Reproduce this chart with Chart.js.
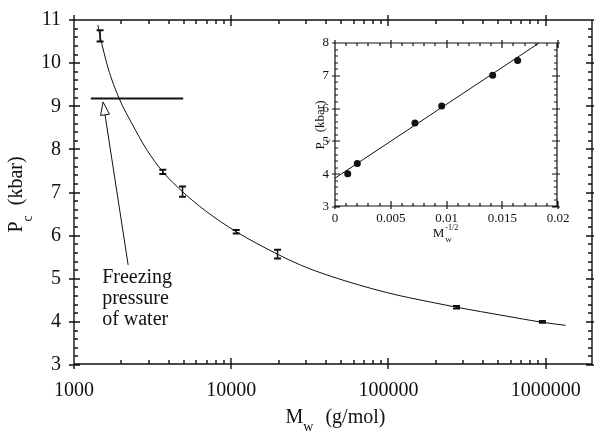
<!DOCTYPE html>
<html>
<head>
<meta charset="utf-8">
<script src="https://cdn.jsdelivr.net/npm/chart.js@4.4.1/dist/chart.umd.min.js"></script>
<style>
  html, body { margin: 0; padding: 0; background: #fff; }
  #wrap { position: relative; width: 594px; height: 431px; overflow: hidden; }
  #main { position: absolute; left: 0; top: 0; }
  #inset { position: absolute; left: 290px; top: 30px; }
</style>
</head>
<body>
<div id="wrap">
  <canvas id="main" width="594" height="431"></canvas>
  <canvas id="inset" width="290" height="220"></canvas>
</div>
<script>
/* globals Chart:false */

// Main panel: critical pressure against molecular weight
const molWeight = [1465, 3670, 4900, 10760, 19700, 271000, 953000];
const critPressure = [10.63, 7.48, 7.02, 6.09, 5.57, 4.34, 4.0];
const critPressureErr = [0.13, 0.05, 0.12, 0.04, 0.1, 0.03, 0.02];

// fitted curve
const fitMolWeight = [1418, 1465, 1646, 1943, 2342, 2905, 3672, 4896, 6833, 10760, 19680, 27500, 42800, 100000, 185000, 271000, 550000, 953000, 1340000];
const fitPressure = [10.88, 10.63, 9.89, 9.17, 8.59, 7.99, 7.48, 7.02, 6.58, 6.09, 5.57, 5.32, 5.06, 4.67, 4.46, 4.34, 4.14, 3.99, 3.92];

// freezing pressure of water + its arrow (tail, tip) and label
const freezeMolWeight = [1280, 4950];
const freezePressure = [9.18, 9.18];
const arrowMolWeight = [2210, 1530];
const arrowPressure = [5.32, 9.1];
const freezeLabel = ['Freezing', 'pressure', 'of water'];
const freezeLabelAt = [1510, 4.9];

const xTickLabels = [1000, 10000, 100000, 1000000];
const yTickLabels = [3, 4, 5, 6, 7, 8, 9, 10, 11];

// Inset: Pc against Mw^-1/2
const invSqrtM = [0.00114, 0.0020, 0.00717, 0.00957, 0.01414, 0.01638];
const insetPressure = [4.01, 4.33, 5.56, 6.08, 7.02, 7.47];
const insetFitX = [0, 0.0183];
const insetFitY = [3.88, 8.0];
const insetXTicks = [0, 0.005, 0.01, 0.015, 0.02];
const insetYTicks = [3, 4, 5, 6, 7, 8];

const serif = "'Liberation Serif', 'Times New Roman', serif";
const ink = '#111';
Chart.defaults.font.family = serif;
Chart.defaults.color = ink;
Chart.defaults.animation = false;

const pts = (xs, ys) => xs.map((v, i) => ({ x: v, y: ys[i] }));

// minor tick values
const xMinor = [];
for (let d = 1000; d <= 1000000; d *= 10) {
  for (let k = 2; k <= 9; k++) if (d * k < 2000000) xMinor.push(d * k);
}
const yMinor = [];
for (let i = 15; i <= 55; i++) if (i % 5) yMinor.push(i / 5);
const insetXMinor = [];
for (let i = 1; i <= 20; i++) if (i % 5) insetXMinor.push(i / 1000);
const insetYMinor = [];
for (let i = 15; i <= 40; i++) if (i % 5) insetYMinor.push(i / 5);

// keep the plot area exactly where the axes put it
const noPad = s => { s.paddingTop = 0; s.paddingBottom = 0; s.paddingLeft = 0; s.paddingRight = 0; };

// text with sub/superscripts: [text, size, dy, gap, noAdvance]
function richText(ctx, parts) {
  let w = 0;
  parts.forEach(p => {
    ctx.font = p[1] + 'px ' + serif;
    if (!p[4]) w += (p[3] || 0) + ctx.measureText(p[0]).width;
  });
  let x = -w / 2;
  parts.forEach(p => {
    ctx.font = p[1] + 'px ' + serif;
    const px = x + (p[3] || 0);
    ctx.fillText(p[0], px, p[2]);
    if (!p[4]) x = px + ctx.measureText(p[0]).width;
  });
}

// boxed frame, ticks on all four sides, and the axis titles
function decor(cfg) {
  return {
    id: 'decor',
    afterDatasetsDraw(chart) {
      const { ctx, chartArea: a } = chart;
      const sx = chart.scales.x, sy = chart.scales.y;
      const L = Math.round(a.left), R = Math.round(a.right) - 1;
      const T = Math.round(a.top), B = Math.round(a.bottom) - 1;
      ctx.save();
      ctx.strokeStyle = ink;
      ctx.lineWidth = cfg.width;
      ctx.lineCap = 'butt';
      ctx.beginPath();
      ctx.rect(L, T, R - L, B - T);
      const xMarks = (vals, len) => vals.forEach(v => {
        const p = Math.round(sx.getPixelForValue(v));
        ctx.moveTo(p, B + len[1]); ctx.lineTo(p, B - len[0]);
        ctx.moveTo(p, T - len[1]); ctx.lineTo(p, T + len[0]);
      });
      const yMarks = (vals, len) => vals.forEach(v => {
        const p = Math.round(sy.getPixelForValue(v));
        ctx.moveTo(L - len[1], p); ctx.lineTo(L + len[0], p);
        ctx.moveTo(R + len[1], p); ctx.lineTo(R - len[0], p);
      });
      xMarks(cfg.xMajor, cfg.major);
      xMarks(cfg.xMinor, cfg.minor);
      yMarks(cfg.yMajor, cfg.major);
      yMarks(cfg.yMinor, cfg.minor);
      ctx.stroke();

      ctx.fillStyle = ink;
      ctx.textAlign = 'left';
      ctx.textBaseline = 'alphabetic';
      ctx.save();
      ctx.translate((a.left + a.right) / 2 + cfg.xTitle.shift, cfg.xTitle.base);
      richText(ctx, cfg.xTitle.parts);
      ctx.restore();
      ctx.save();
      ctx.translate(cfg.yTitle.base, (a.top + a.bottom) / 2 + cfg.yTitle.shift);
      ctx.rotate(-Math.PI / 2);
      richText(ctx, cfg.yTitle.parts);
      ctx.restore();
      ctx.restore();
    }
  };
}

// error bars and the freezing-pressure note on the main panel
const mainMarks = {
  id: 'mainMarks',
  afterDatasetsDraw(chart) {
    const { ctx } = chart;
    const sx = chart.scales.x, sy = chart.scales.y;
    ctx.save();
    ctx.strokeStyle = ink;
    chart.getDatasetMeta(2).data.forEach((pt, i) => {
      const v = critPressure[i], e = critPressureErr[i];
      const top = sy.getPixelForValue(v + e), bot = sy.getPixelForValue(v - e);
      ctx.lineWidth = 1.5;
      ctx.beginPath();
      ctx.moveTo(pt.x, top); ctx.lineTo(pt.x, bot);
      ctx.stroke();
      ctx.lineWidth = 2;
      ctx.beginPath();
      ctx.moveTo(pt.x - 3.5, top); ctx.lineTo(pt.x + 3.5, top);
      ctx.moveTo(pt.x - 3.5, bot); ctx.lineTo(pt.x + 3.5, bot);
      ctx.stroke();
    });

    const x0 = sx.getPixelForValue(arrowMolWeight[0]), y0 = sy.getPixelForValue(arrowPressure[0]);
    const x1 = sx.getPixelForValue(arrowMolWeight[1]), y1 = sy.getPixelForValue(arrowPressure[1]);
    const ang = Math.atan2(y1 - y0, x1 - x0);
    const head = 13, half = 4.5;
    const bx = x1 - head * Math.cos(ang), by = y1 - head * Math.sin(ang);
    ctx.lineWidth = 1;
    ctx.beginPath();
    ctx.moveTo(x0, y0); ctx.lineTo(bx, by);
    ctx.stroke();
    ctx.beginPath();
    ctx.moveTo(x1, y1);
    ctx.lineTo(bx + half * Math.sin(ang), by - half * Math.cos(ang));
    ctx.lineTo(bx - half * Math.sin(ang), by + half * Math.cos(ang));
    ctx.closePath();
    ctx.fillStyle = '#fff';
    ctx.fill();
    ctx.stroke();

    ctx.fillStyle = ink;
    ctx.font = '20px ' + serif;
    ctx.textAlign = 'left';
    ctx.textBaseline = 'alphabetic';
    const tx = sx.getPixelForValue(freezeLabelAt[0]), ty = sy.getPixelForValue(freezeLabelAt[1]);
    freezeLabel.forEach((s, i) => ctx.fillText(s, tx, ty + i * 21));
    ctx.restore();
  }
};

const noGrid = { display: false, drawTicks: false };

// Main chart
new Chart(document.getElementById('main'), {
  type: 'line',
  data: {
    datasets: [{
      data: pts(fitMolWeight, fitPressure),
      borderColor: ink,
      borderWidth: 1,
      pointRadius: 0,
      cubicInterpolationMode: 'monotone'
    }, {
      data: pts(freezeMolWeight, freezePressure),
      borderColor: ink,
      borderWidth: 2,
      pointRadius: 0
    }, {
      data: pts(molWeight, critPressure),
      showLine: false,
      pointRadius: 0
    }]
  },
  options: {
    responsive: false,
    events: [],
    layout: { padding: { top: 20, right: 1, left: 0, bottom: 0 } },
    plugins: { legend: { display: false }, tooltip: { enabled: false } },
    scales: {
      x: {
        type: 'logarithmic',
        min: 1000,
        max: 2000000,
        afterBuildTicks: s => { s.ticks = xTickLabels.map(v => ({ value: v })); },
        afterFit: s => { s.height = 66; noPad(s); },
        grid: noGrid,
        border: { display: false },
        ticks: { font: { size: 20 }, padding: 14, maxRotation: 0, autoSkip: false, callback: v => String(v) }
      },
      y: {
        min: 3,
        max: 11,
        afterBuildTicks: s => { s.ticks = yTickLabels.map(v => ({ value: v })); },
        afterFit: s => { s.width = 74; noPad(s); },
        grid: noGrid,
        border: { display: false },
        ticks: { font: { size: 20 }, padding: 13 }
      }
    }
  },
  plugins: [mainMarks, decor({
    width: 1.4,
    xMajor: xTickLabels, xMinor: xMinor,
    yMajor: yTickLabels, yMinor: yMinor,
    major: [6, 5], minor: [4, 0],
    xTitle: { base: 423, shift: 2, parts: [['M', 20, 0], ['w', 14, 8, 0], ['(g/mol)', 20, 0, 12]] },
    yTitle: { base: 22, shift: 2, parts: [['P', 20, 0], ['c', 14, 10, 0], ['(kbar)', 20, 0, 10]] }
  })]
});

// Inset chart
new Chart(document.getElementById('inset'), {
  type: 'line',
  data: {
    datasets: [{
      data: pts(insetFitX, insetFitY),
      borderColor: ink,
      borderWidth: 1,
      pointRadius: 0
    }, {
      data: pts(invSqrtM, insetPressure),
      showLine: false,
      pointRadius: 3.5,
      pointBackgroundColor: ink,
      pointBorderColor: ink,
      pointBorderWidth: 0
    }]
  },
  options: {
    responsive: false,
    events: [],
    layout: { padding: { top: 13, right: 22, left: 0, bottom: 0 } },
    plugins: { legend: { display: false }, tooltip: { enabled: false } },
    scales: {
      x: {
        type: 'linear',
        min: 0,
        max: 0.02,
        afterBuildTicks: s => { s.ticks = insetXTicks.map(v => ({ value: v })); },
        afterFit: s => { s.height = 43; noPad(s); },
        grid: noGrid,
        border: { display: false },
        ticks: { font: { size: 13 }, padding: 4, maxRotation: 0, autoSkip: false, callback: v => String(+v.toFixed(4)) }
      },
      y: {
        min: 3,
        max: 8,
        afterBuildTicks: s => { s.ticks = insetYTicks.map(v => ({ value: v })); },
        afterFit: s => { s.width = 45; noPad(s); },
        grid: noGrid,
        border: { display: false },
        ticks: { font: { size: 13 }, padding: 6 }
      }
    }
  },
  plugins: [decor({
    width: 1.2,
    xMajor: insetXTicks, xMinor: insetXMinor,
    yMajor: insetYTicks, yMinor: insetYMinor,
    major: [5, 3], minor: [3, 0],
    xTitle: { base: 207, shift: -1, parts: [['M', 13, 0], ['w', 9, 5, 1, true], ['-1/2', 8, -7, 1]] },
    yTitle: { base: 34, shift: 0, parts: [['P', 13, 0], ['c', 9, 6, 0], ['(kbar)', 13, 0, 6]] }
  })]
});
</script>
</body>
</html>
